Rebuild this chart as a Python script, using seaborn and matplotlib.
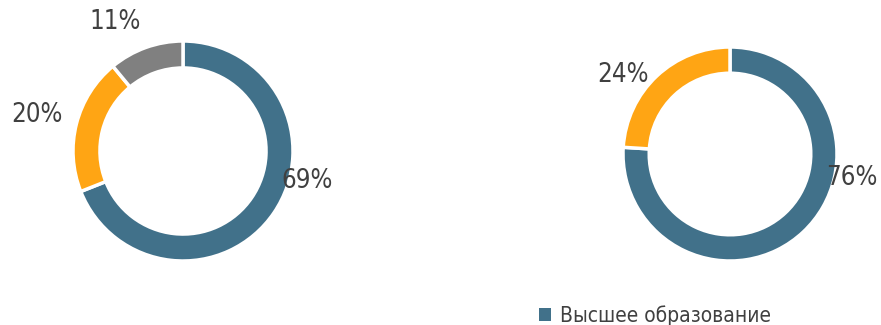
import numpy as np
import pandas as pd
import seaborn as sns
import matplotlib.pyplot as plt
from matplotlib.patches import Patch

sns.set_theme(style="white")
plt.rcParams["font.family"] = ["DejaVu Sans"]
plt.rcParams["font.stretch"] = "condensed"

# data
left_labels = ["Высшее образование", "Среднее специальное", "Другое"]
left_values = [69, 20, 11]
right_labels = ["Высшее образование", "Среднее специальное"]
right_values = [76, 24]
colors = ["#41718A", "#FFA514", "#808080"]
legend_label = "Высшее образование"

# label offsets (in radius units) relative to donut centre
left_label_pos = [(1.13, -0.27), (-1.33, 0.33), (-0.62, 1.17)]
right_label_pos = [(1.14, -0.22), (-1.0, 0.74)]

W, H = 881, 325
fig = plt.figure(figsize=(W / 100, H / 100), dpi=100)


def donut(cx, cy, r, values, label_pos):
    ax = fig.add_axes([(cx - r) / W, (H - cy - r) / H, 2 * r / W, 2 * r / H])
    ax.pie(values, colors=colors[:len(values)], startangle=90, counterclock=False,
           radius=1, wedgeprops=dict(width=0.245, edgecolor="white", linewidth=2.5))
    ax.set_xlim(-1, 1)
    ax.set_ylim(-1, 1)
    ax.set_aspect("auto")
    ax.axis("off")
    for v, (x, y) in zip(values, label_pos):
        ax.text(x, y, f"{v}%", ha="center", va="center", fontsize=18.5,
                color="#404040", clip_on=False)
    return ax


donut(183, 151, 110, left_values, left_label_pos)
donut(730, 154, 107, right_values, right_label_pos)

handles = [Patch(facecolor=colors[0], edgecolor="none")]
fig.legend(handles, [legend_label], loc="upper left",
           bbox_to_anchor=(531 / W, 1 - 297 / H), frameon=False,
           fontsize=15, handlelength=0.55, handleheight=0.55, handletextpad=0.45,
           labelcolor="#404040", borderaxespad=0)

fig.savefig("out.png", dpi=100)
